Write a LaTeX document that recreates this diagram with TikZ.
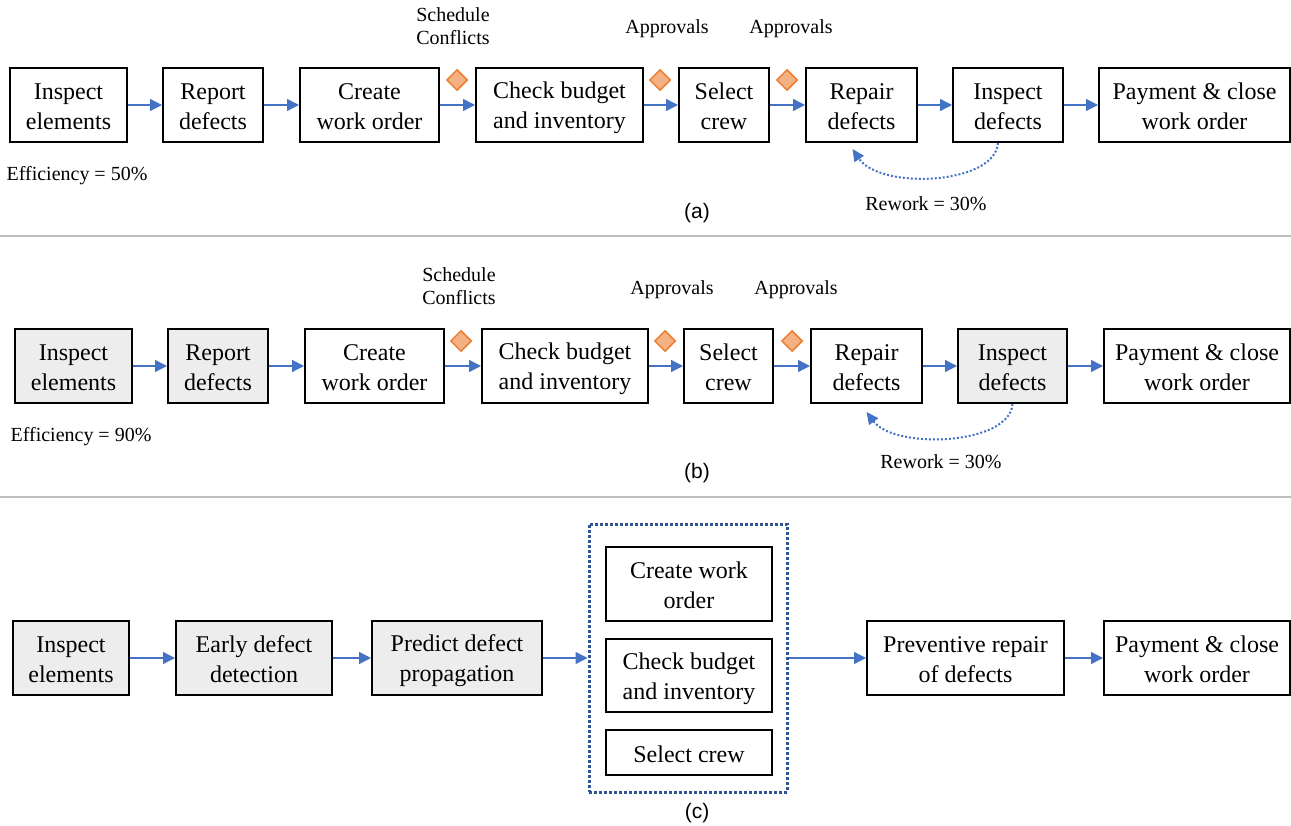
\documentclass[tikz,border=0pt]{standalone}
\usepackage{fontspec}
\setmainfont{Liberation Serif}
\newfontfamily\arialf{Liberation Sans}
\usetikzlibrary{arrows.meta,shapes.geometric}
\definecolor{arrowblue}{HTML}{4472C4}
\definecolor{dotblue}{HTML}{2F5597}
\definecolor{dfill}{HTML}{F4B183}
\definecolor{dline}{HTML}{ED7D31}
\definecolor{boxgray}{HTML}{EDEDED}
\definecolor{sepgray}{HTML}{BFBFBF}
\newcommand\st{\rule[-3.5pt]{0pt}{26pt}}
\begin{document}
\begin{tikzpicture}[x=1pt,y=-1pt,
 box/.style={draw=black, line width=2pt, fill=white, align=center, inner sep=0pt, minimum height=74pt, font=\fontsize{24}{30}\selectfont},
 graybox/.style={box, fill=boxgray},
 flow/.style={draw=arrowblue, line width=1.3pt, -{Triangle[length=12pt,width=12pt]}},
 rework/.style={draw=arrowblue, line width=2pt, dotted, -{Triangle[length=12pt,width=11pt]}},
 lbl/.style={align=center, inner sep=0pt, font=\fontsize{20}{23}\selectfont},
 captext/.style={inner sep=0pt, font=\arialf\fontsize{21}{24}\selectfont},
 gate/.style={diamond, draw=dline, fill=dfill, line width=1.5pt, minimum width=21pt, minimum height=21pt, inner sep=0pt},
 sepline/.style={draw=sepgray, line width=2pt},
 grp/.style={draw=dotblue, line width=3pt, dotted, minimum width=198pt, minimum height=268pt, inner sep=0pt}]
\useasboundingbox (0,0) rectangle (1291,826);

% ---------------- panel (a)
\node[box, minimum width=117pt] (A1) at (68.5,105) {\st Inspect\\\st elements};
\node[box, minimum width=100pt] (A2) at (213,105) {\st Report\\\st defects};
\node[box, minimum width=139pt] (A3) at (369.5,105) {\st Create\\\st work order};
\node[box, minimum width=167pt] (A4) at (559.5,105) {\st Check budget\\\st and inventory};
\node[box, minimum width=90pt] (A5) at (724,105) {\st Select\\\st crew};
\node[box, minimum width=111pt] (A6) at (861.5,105) {\st Repair\\\st defects};
\node[box, minimum width=110pt] (A7) at (1008,105) {\st Inspect\\\st defects};
\node[box, minimum width=191pt] (A8) at (1194.5,105) {\st Payment \& close\\\st work order};
\foreach \a/\b in {A1/A2,A2/A3,A3/A4,A4/A5,A5/A6,A6/A7,A7/A8}
  \draw[flow] (\a.east) -- (\b.west);
\node[gate] (ga1) at (457,80) {};
\node[gate] (ga2) at (660,80) {};
\node[gate] (ga3) at (787,80) {};
\node[lbl] (la1) at (453,26) {Schedule\\Conflicts};
\node[lbl] (la2) at (667,29) {Approvals};
\node[lbl] (la3) at (791,29) {Approvals};
\node[lbl] (la4) at (77,176) {Efficiency = 50\%};
\draw[rework] ([xshift=-10pt]A7.south) .. controls (995,185) and (880,190) .. ([xshift=-9pt,yshift=-6pt]A6.south);
\node[lbl] (la5) at (926,204) {Rework = 30\%};
\node[captext] (capa) at (697,213) {(a)};

\draw[sepline] (0,236) -- (1291,236);

% ---------------- panel (b)
\node[graybox, minimum width=117pt] (B1) at (73.5,366) {\st Inspect\\\st elements};
\node[graybox, minimum width=100pt] (B2) at (218,366) {\st Report\\\st defects};
\node[box, minimum width=139pt] (B3) at (374.5,366) {\st Create\\\st work order};
\node[box, minimum width=166pt] (B4) at (565,366) {\st Check budget\\\st and inventory};
\node[box, minimum width=89pt] (B5) at (728.5,366) {\st Select\\\st crew};
\node[box, minimum width=111pt] (B6) at (866.5,366) {\st Repair\\\st defects};
\node[graybox, minimum width=109pt] (B7) at (1012.5,366) {\st Inspect\\\st defects};
\node[box, minimum width=186pt] (B8) at (1197,366) {\st Payment \& close\\\st work order};
\foreach \a/\b in {B1/B2,B2/B3,B3/B4,B4/B5,B5/B6,B6/B7,B7/B8}
  \draw[flow] (\a.east) -- (\b.west);
\node[gate] (gb1) at (461,341) {};
\node[gate] (gb2) at (665,341) {};
\node[gate] (gb3) at (792,341) {};
\node[lbl] (lb1) at (459,286) {Schedule\\Conflicts};
\node[lbl] (lb2) at (672,290) {Approvals};
\node[lbl] (lb3) at (796,290) {Approvals};
\node[lbl] (lb4) at (81,437) {Efficiency = 90\%};
\draw[rework] (B7.south) .. controls (1010,445) and (895,450) .. ([yshift=-8pt]B6.south);
\node[lbl] (lb5) at (941,462) {Rework = 30\%};
\node[captext] (capb) at (697,473) {(b)};

\draw[sepline] (0,497) -- (1291,497);

% ---------------- panel (c)
\node[graybox, minimum width=116pt] (C1) at (71,658) {\st Inspect\\\st elements};
\node[graybox, minimum width=156pt] (C2) at (254,658) {\st Early defect\\\st detection};
\node[graybox, minimum width=170pt] (C3) at (457,658) {\st Predict defect\\\st propagation};
\node[grp] (G) at (688,658) {};
\node[box, minimum width=166pt] (C4) at (689,584) {\st Create work\\\st order};
\node[box, minimum width=166pt, minimum height=73pt] (C5) at (689,675.5) {\st Check budget\\\st and inventory};
\node[box, minimum width=166pt, minimum height=45pt] (C6) at (689,752.5) {\st Select crew};
\node[box, minimum width=197pt] (C7) at (965.5,658) {\st Preventive repair\\\st of defects};
\node[box, minimum width=186pt] (C8) at (1197,658) {\st Payment \& close\\\st work order};
\draw[flow] (C1.east) -- (C2.west);
\draw[flow] (C2.east) -- (C3.west);
\draw[flow] (C3.east) -- (G.west);
\draw[flow] (G.east) -- (C7.west);
\draw[flow] (C7.east) -- (C8.west);
\node[captext] (capc) at (697,813) {(c)};
\end{tikzpicture}
\end{document}
